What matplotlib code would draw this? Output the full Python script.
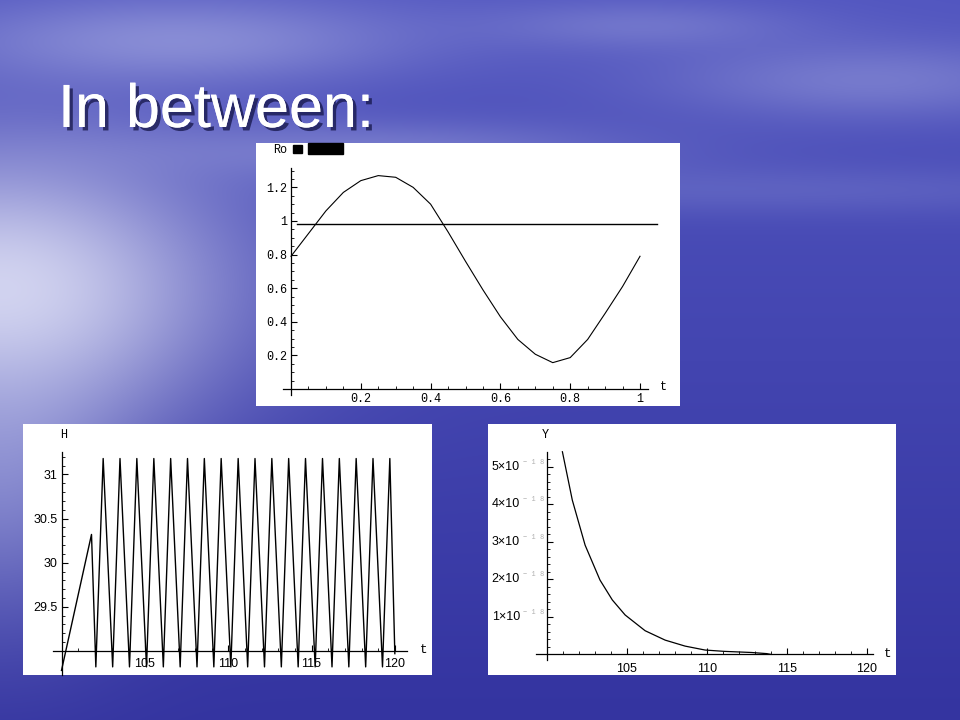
import numpy as np
import matplotlib
matplotlib.use("Agg")
import matplotlib.pyplot as plt
import matplotlib.patheffects as pe
from matplotlib.patches import Rectangle

# --- data ---
ro_t = [0.0, 0.05, 0.1, 0.15, 0.2, 0.25, 0.3, 0.35, 0.4, 0.45, 0.5,
        0.55, 0.6, 0.65, 0.7, 0.75, 0.8, 0.85, 0.9, 0.95, 1.0]
ro_val = [0.79, 0.925, 1.06, 1.17, 1.24, 1.27, 1.26, 1.20, 1.10, 0.935, 0.76,
          0.59, 0.43, 0.295, 0.207, 0.157, 0.187, 0.295, 0.45, 0.61, 0.79]
ro_level = 0.98
ro_xticks = [0.2, 0.4, 0.6, 0.8, 1.0]
ro_xlabels = ["0.2", "0.4", "0.6", "0.8", "1"]
ro_yticks = [0.2, 0.4, 0.6, 0.8, 1.0, 1.2]
ro_ylabels = ["0.2", "0.4", "0.6", "0.8", "1", "1.2"]

h_t = [100.0, 101.80,
       102.06, 102.50, 103.07, 103.51, 104.08, 104.52, 105.10, 105.54,
       106.11, 106.55, 107.12, 107.56, 108.13, 108.57, 109.14, 109.58,
       110.16, 110.60, 111.17, 111.61, 112.18, 112.62, 113.19, 113.63,
       114.20, 114.64, 115.22, 115.66, 116.23, 116.67, 117.24, 117.68,
       118.25, 118.69, 119.26, 119.70, 120.0]
h_val = [28.78, 30.32,
         28.82, 31.18, 28.82, 31.18, 28.82, 31.18, 28.82, 31.18,
         28.82, 31.18, 28.82, 31.18, 28.82, 31.18, 28.82, 31.18,
         28.82, 31.18, 28.82, 31.18, 28.82, 31.18, 28.82, 31.18,
         28.82, 31.18, 28.82, 31.18, 28.82, 31.18, 28.82, 31.18,
         28.82, 31.18, 28.82, 31.18, 28.97]
h_yticks = [29.5, 30.0, 30.5, 31.0]
h_ylabels = ["29.5", "30", "30.5", "31"]
t_ticks = [105, 110, 115, 120]
t_labels = ["105", "110", "115", "120"]

y_t = [100.98, 101.6, 102.4, 103.33, 104.1, 104.9, 106.15, 107.4,
       108.65, 109.9, 111.1, 112.8, 113.75, 114.0]
y_val = [5.40, 4.11, 2.91, 1.98, 1.45, 1.05, 0.63, 0.38,
         0.22, 0.115, 0.08, 0.05, 0.02, 0.0]  # units of 1e-18
y_ticks = [1, 2, 3, 4, 5]

W, H = 960, 720
fig = plt.figure(figsize=(9.6, 7.2), dpi=100)

# --- sky / sea background ---
yy, xx = np.mgrid[0:H, 0:W].astype(float)
f = (yy / H)[..., None]
img = np.array([82, 86, 192]) * (1 - f) + np.array([52, 52, 160]) * f


def blob(img, cx, cy, sx, sy, w, color):
    g = (w * np.exp(-(((xx - cx) / sx) ** 2 + ((yy - cy) / sy) ** 2)))[..., None]
    return img * (1 - g) + np.array(color) * g


img = blob(img, 0, 290, 230, 140, 0.85, (235, 236, 250))
img = blob(img, 0, 470, 130, 160, 0.45, (200, 205, 240))
img = blob(img, 180, 40, 240, 45, 0.45, (200, 205, 240))
img = blob(img, 380, 150, 260, 30, 0.35, (190, 195, 235))
img = blob(img, 870, 80, 220, 40, 0.35, (190, 195, 235))
img = blob(img, 640, 25, 160, 25, 0.30, (180, 185, 230))
img = blob(img, 760, 190, 420, 25, 0.25, (150, 158, 220))
bg = fig.add_axes([0, 0, 1, 1])
bg.imshow(img.astype(np.uint8), aspect="auto", extent=[0, W, H, 0])
bg.set_xlim(0, W)
bg.set_ylim(H, 0)
bg.axis("off")

# title
fig.text(58 / W, 1 - 127 / H, "In between:", color="white",
         fontsize=44, family="Liberation Sans",
         path_effects=[pe.withSimplePatchShadow(offset=(2.5, -2.5),
                                                shadow_rgbFace="#101040", alpha=0.7),
                       pe.Normal()])

mono = "Liberation Mono"


def panel(box, xlim, ylim, origin, xspan, yspan):
    x0, y0, x1, y1 = box
    ax = fig.add_axes([x0 / W, 1 - y1 / H, (x1 - x0) / W, (y1 - y0) / H])
    ax.set_facecolor("white")
    ax.set_xlim(xlim)
    ax.set_ylim(ylim)
    for s in ["top", "right"]:
        ax.spines[s].set_visible(False)
    ax.spines["left"].set_position(("data", origin[0]))
    ax.spines["bottom"].set_position(("data", origin[1]))
    ax.spines["left"].set_bounds(*yspan)
    ax.spines["bottom"].set_bounds(*xspan)
    for s in ["left", "bottom"]:
        ax.spines[s].set_linewidth(0.9)
    ax.tick_params(which="major", direction="in", length=4.5, width=0.8,
                   labelsize=8.5, pad=3)
    ax.tick_params(which="minor", direction="in", length=2.5, width=0.6)
    return ax


# --- top panel: Ro ---
ax1 = panel((256, 143, 680, 406), (-0.1003, 1.1146), (-0.101, 1.464), (0, 0),
            (-0.023, 1.023), (-0.035, 1.315))
ax1.plot(ro_t, ro_val, color="black", lw=0.8)
ax1.plot([0.017, 1.049], [ro_level, ro_level], color="black", lw=1.0)
ax1.set_xticks(ro_xticks)
ax1.set_xticklabels(ro_xlabels, family=mono)
ax1.set_yticks(ro_yticks)
ax1.set_yticklabels(ro_ylabels, family=mono)
ax1.set_xticks(np.arange(0.05, 1.01, 0.05), minor=True)
ax1.set_yticks(np.arange(0.05, 1.31, 0.05), minor=True)
ax1.text(-0.03, 1.42, "Ro", family=mono, fontsize=8.5, ha="center", va="center")
ax1.text(1.066, 0.01, "t", family=mono, fontsize=8.5, ha="center", va="center")
fig.add_artist(Rectangle((293 / W, 1 - 153 / H), 9 / W, 8 / H,
                         transform=fig.transFigure, color="black"))
fig.add_artist(Rectangle((308 / W, 1 - 154 / H), 35 / W, 11 / H,
                         transform=fig.transFigure, color="black"))

# --- bottom left: H ---
ax2 = panel((23, 424, 432, 675), (97.69, 122.23), (28.728, 31.571), (100, 29.0),
            (99.49, 120.72), (28.73, 31.25))
ax2.plot(h_t, h_val, color="black", lw=1.0)
ax2.set_xticks(t_ticks)
ax2.set_xticklabels(t_labels, family="Liberation Sans", fontsize=9)
ax2.tick_params(axis="x", which="major", pad=5)
ax2.set_yticks(h_yticks)
ax2.set_yticklabels(h_ylabels, family="Liberation Sans", fontsize=9)
ax2.set_xticks(np.arange(101, 121, 1), minor=True)
ax2.set_yticks(np.arange(29.1, 31.25, 0.1), minor=True)
ax2.text(100.1, 31.45, "H", family=mono, fontsize=8.5, ha="center", va="center")
ax2.text(121.7, 29.01, "t", family=mono, fontsize=9, ha="center", va="center")

# --- bottom right: Y ---
ax3 = panel((488, 424, 896, 675), (96.33, 121.83), (-0.55, 6.14), (100, 0),
            (99.33, 120.4), (-0.15, 5.39))
ax3.plot(y_t, y_val, color="black", lw=0.9)
ax3.set_xticks(t_ticks)
ax3.set_xticklabels(t_labels, family="Liberation Sans", fontsize=9)
ax3.tick_params(axis="x", which="major", pad=6)
ax3.set_yticks(y_ticks)
ax3.set_yticklabels([""] * len(y_ticks))
ax3.set_xticks(np.arange(101, 121, 1), minor=True)
ax3.set_yticks(np.arange(0.2, 5.4, 0.2), minor=True)
tr = ax3.get_yaxis_transform()
for v in y_ticks:
    ax3.text(32 / 408, v, f"{v}\u00d710", transform=tr, ha="right", va="center",
             family="Liberation Sans", fontsize=9)
    ax3.text(35 / 408, v + 0.12, "\u2212 1 8", transform=tr, ha="left", va="center",
             family=mono, fontsize=5, color="#b0b0b0")
ax3.text(99.9, 5.85, "Y", family=mono, fontsize=8.5, ha="center", va="center")
ax3.text(121.3, 0.0, "t", family=mono, fontsize=9, ha="center", va="center")

fig.savefig("out.png", dpi=100)
